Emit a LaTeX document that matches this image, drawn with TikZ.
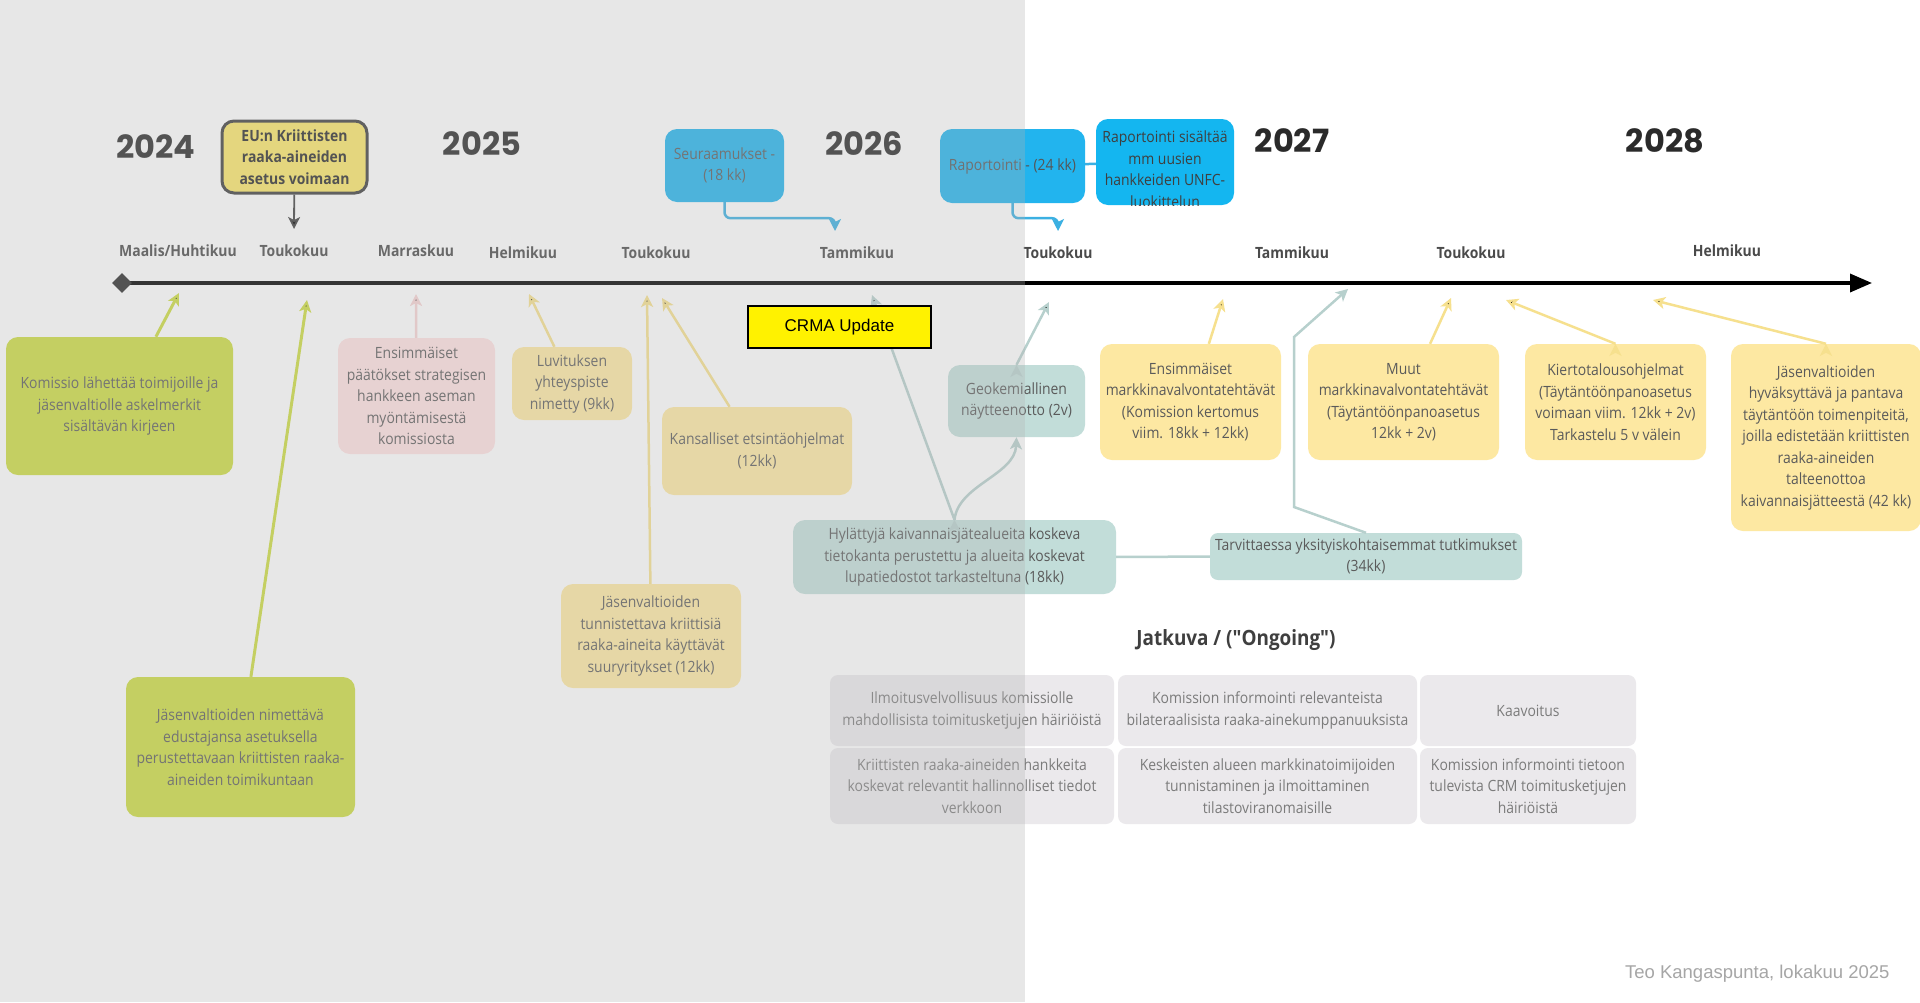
\documentclass[tikz,border=0pt]{standalone}
\usepackage{fontspec}
\setmainfont{Open Sans}[FakeStretch=0.9]
\newfontfamily\jatfont{Open Sans}[FakeStretch=0.9,Ligatures=TeXOff]
\newfontfamily\yearfont{Poppins}
\newfontfamily\arialfont{Liberation Sans}
\usetikzlibrary{arrows.meta,shapes.geometric}
\definecolor{ink}{HTML}{5A5A5A}
\definecolor{darkink}{HTML}{2A2A2A}
\definecolor{boxyel}{HTML}{FDE8A2}
\definecolor{arryel}{HTML}{F6E08E}
\definecolor{boxgrn}{HTML}{CCDC40}
\definecolor{boxpnk}{HTML}{FFE0E0}
\definecolor{arrpnk}{HTML}{F6D2D2}
\definecolor{boxtea}{HTML}{C2DDD9}
\definecolor{arrtea}{HTML}{B7D0CD}
\definecolor{boxblu}{HTML}{22B4EE}
\definecolor{boxbrt}{HTML}{14B6F0}
\definecolor{arrblu}{HTML}{3BB0E2}
\definecolor{boxgry}{HTML}{EBE9EC}
\definecolor{eufill}{HTML}{FAE768}
\definecolor{veil}{HTML}{B2B2B2}

\begin{document}
\begin{tikzpicture}[x=1pt,y=-1pt,>={Stealth[length=12pt,width=12pt,inset=3pt]},
    box/.style={rounded corners=12, text=ink, align=center, inner sep=2,
        font=\fontsize{15.5}{21.5}\selectfont},
    ybox/.style={box, fill=boxyel},
    gbox/.style={box, fill=boxgrn},
    tbox/.style={box, fill=boxtea},
    obox/.style={box, fill=boxgry, rounded corners=8, text=ink!80},
    bbox/.style={box, fill=boxblu, text=darkink!80},
    year/.style={font=\yearfont\bfseries\fontsize{32}{32}\selectfont, text=darkink},
    month/.style={font=\bfseries\fontsize{15.5}{15.5}\selectfont, text=darkink!85},
    garr/.style={->, draw=boxgrn, line width=3},
    yarr/.style={->, draw=arryel, line width=2.5},
    parr/.style={->, draw=arrpnk, line width=2.5},
    tarr/.style={->, draw=arrtea, line width=2.5},
    barr/.style={->, draw=arrblu, line width=2.5, rounded corners=6}]
    \useasboundingbox (0,0) rectangle (1920,1002);
    \fill[white] (0,0) rectangle (1920,1002);

    \node[year] (y24) at (156,147) {2024};
    \node[year] (y25) at (482,144) {2025};
    \node[year] (y26) at (864,144) {2026};
    \node[year] (y27) at (1292,141) {2027};
    \node[year] (y28) at (1665,141) {2028};

    \node[month] (m1) at (178,251) {Maalis/Huhtikuu};
    \node[month] (m2) at (294,251) {Toukokuu};
    \node[month] (m3) at (416,251) {Marraskuu};
    \node[month] (m4) at (523,253) {Helmikuu};
    \node[month] (m5) at (656,253) {Toukokuu};
    \node[month] (m6) at (857,253) {Tammikuu};
    \node[month] (m7) at (1058,253) {Toukokuu};
    \node[month] (m8) at (1292,253) {Tammikuu};
    \node[month] (m9) at (1471,253) {Toukokuu};
    \node[month] (m10) at (1727,251) {Helmikuu};

    \coordinate (start) at (122,283);
    \coordinate (end) at (1872,283);
    \draw[line width=3.5, -{Triangle[length=22pt,width=18pt]}] (start) -- (end);
    \node[diamond, fill=darkink, minimum size=20, inner sep=0] (dia) at (start) {};

    \node[box, fill=eufill, draw=darkink!90, line width=3, text=darkink, font=\bfseries\fontsize{15.5}{21.5}\selectfont,
        minimum width=145, minimum height=72] (eu) at (294.5,157) {EU:n Kriittisten\\raaka-aineiden\\asetus voimaan};
    \coordinate (eut) at (294,229);
    \path[->, draw=darkink!90, line width=1.8] (eu) edge (eut);

    \node[bbox, minimum width=119, minimum height=73, text=ink] (seur) at (724.5,165.5) {Seuraamukset -\\(18 kk)};
    \node[bbox, minimum width=145, minimum height=74] (rap) at (1012.5,166) {Raportointi - (24 kk)};
    \node[bbox, fill=boxbrt, minimum width=138, minimum height=86] (raps) at (1165,162) {};
    \begin{scope}
        \clip[rounded corners=12] (raps.north west) rectangle (raps.south east);
        \node[box, text=darkink!90] (rapst) at (1165,169) {Raportointi sisältää\\mm uusien\\hankkeiden UNFC-\\luokittelun};
    \end{scope}
    \path[-, draw=arrblu, line width=2.5] (rap) edge (raps);
    \coordinate (s1) at (835,231);
    \coordinate (s2) at (1058,231);
    \draw[barr] (seur.south) -- ++(0,16) -| (s1);
    \draw[barr] (rap.south) -- ++(0,15) -| (s2);

    \node[gbox, minimum width=227, minimum height=138] (kom) at (119.5,406) {Komissio lähettää toimijoille ja\\jäsenvaltiolle askelmerkit\\sisältävän kirjeen};
    \node[gbox, minimum width=229, minimum height=140] (edus) at (240.5,747) {Jäsenvaltioiden nimettävä\\edustajansa asetuksella\\perustettavaan kriittisten raaka-\\aineiden toimikuntaan};
    \node[box, fill=boxpnk, minimum width=157, minimum height=116] (paat) at (416.5,396) {Ensimmäiset\\päätökset strategisen\\hankkeen aseman\\myöntämisestä\\komissiosta};
    \node[ybox, minimum width=120, minimum height=73] (luvi) at (572,383.5) {Luvituksen\\yhteyspiste\\nimetty (9kk)};
    \node[ybox, minimum width=190, minimum height=88] (kans) at (757,451) {Kansalliset etsintäohjelmat\\(12kk)};
    \node[ybox, minimum width=180, minimum height=104] (suur) at (651,636) {Jäsenvaltioiden\\tunnistettava kriittisiä\\raaka-aineita käyttävät\\suuryritykset (12kk)};
    \node[tbox, minimum width=137, minimum height=72] (geok) at (1016.5,401) {Geokemiallinen\\näytteenotto (2v)};
    \node[tbox, minimum width=323, minimum height=74] (hyla) at (954.5,557) {Hylättyjä kaivannaisjätealueita koskeva\\tietokanta perustettu ja alueita koskevat\\lupatiedostot tarkasteltuna (18kk)};
    \node[tbox, rounded corners=8, minimum width=312, minimum height=47] (tarv) at (1366,556.5) {Tarvittaessa yksityiskohtaisemmat tutkimukset\\(34kk)};
    \node[ybox, minimum width=181, minimum height=116] (mv1) at (1190.5,402) {Ensimmäiset\\markkinavalvontatehtävät\\(Komission kertomus\\viim. 18kk + 12kk)};
    \node[ybox, minimum width=191, minimum height=116] (mv2) at (1403.5,402) {Muut\\markkinavalvontatehtävät\\(Täytäntöönpanoasetus\\12kk + 2v)};
    \node[ybox, minimum width=181, minimum height=116] (kier) at (1615.5,402) {Kiertotalousohjelmat\\(Täytäntöönpanoasetus\\voimaan viim. 12kk + 2v)\\Tarkastelu 5 v välein};
    \node[ybox, minimum width=190, minimum height=187] (talt) at (1826,437.5) {Jäsenvaltioiden\\hyväksyttävä ja pantava\\täytäntöön toimenpiteitä,\\joilla edistetään kriittisten\\raaka-aineiden\\talteenottoa\\kaivannaisjätteestä (42 kk)};

    \coordinate (t1) at (179,293);
    \coordinate (t2) at (307,300);
    \coordinate (t3) at (416,294);
    \coordinate (t4) at (529,294);
    \coordinate (t5) at (662,298);
    \coordinate (t6) at (647,295);
    \coordinate (t7) at (872,295);
    \coordinate (t8) at (1049,302);
    \coordinate (t9) at (1223,299);
    \coordinate (t10) at (1451,298);
    \coordinate (t11) at (1506,300);
    \coordinate (t12) at (1653,300);
    \coordinate (t13) at (1348,289);
    \coordinate (k1) at (1294,507);
    \coordinate (k2) at (1294,337);

    \path[garr] (kom) edge (t1);
    \path[garr] (edus) edge (t2);
    \path[parr] (paat) edge (t3);
    \path[yarr] (luvi) edge (t4);
    \path[yarr] (kans) edge (t5);
    \path[yarr] (suur) edge (t6);
    \path[tarr] (hyla.north) edge (t7);
    \draw[tarr] (hyla.north) .. controls (958,485) and (1015,475) .. (geok.south);
    \path[tarr] (geok.north) edge (t8);
    \path[-, draw=arrtea, line width=2.5] (hyla) edge (tarv);
    \draw[tarr] (tarv.north) -- (k1) -- (k2) -- (t13);
    \path[yarr] (mv1) edge (t9);
    \path[yarr] (mv2) edge (t10);
    \path[yarr] (kier.north) edge (t11);
    \path[yarr] (talt.north) edge (t12);

    \node[font=\jatfont\bfseries\fontsize{21}{21}\selectfont, text=darkink!90] (jat) at (1236,640) {Jatkuva / ("Ongoing")};
    \node[obox, minimum width=284, minimum height=71] (o11) at (972,710.5) {Ilmoitusvelvollisuus komissiolle\\mahdollisista toimitusketjujen häiriöistä};
    \node[obox, minimum width=299, minimum height=71] (o12) at (1267.5,710.5) {Komission informointi relevanteista\\bilateraalisista raaka-ainekumppanuuksista};
    \node[obox, minimum width=216, minimum height=71] (o13) at (1528,710.5) {Kaavoitus};
    \node[obox, minimum width=284, minimum height=76] (o21) at (972,786) {Kriittisten raaka-aineiden hankkeita\\koskevat relevantit hallinnolliset tiedot\\verkkoon};
    \node[obox, minimum width=299, minimum height=76] (o22) at (1267.5,786) {Keskeisten alueen markkinatoimijoiden\\tunnistaminen ja ilmoittaminen\\tilastoviranomaisille};
    \node[obox, minimum width=216, minimum height=76] (o23) at (1528,786) {Komission informointi tietoon\\tulevista CRM toimitusketjujen\\häiriöistä};

    \fill[veil, opacity=0.3] (0,0) rectangle (1025,1002);

    \node[draw=black, line width=2, fill=yellow, minimum width=183, minimum height=42,
        font=\arialfont\fontsize{17}{17}\selectfont] (crma) at (839.5,327) {CRMA Update};
    \node[anchor=east, font=\arialfont\fontsize{18.5}{18.5}\selectfont, text=black!35] (teo) at (1893,974) {Teo Kangaspunta, lokakuu 2025};
\end{tikzpicture}
\end{document}
